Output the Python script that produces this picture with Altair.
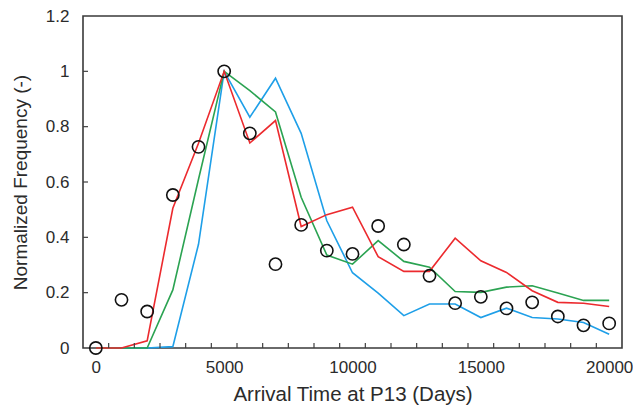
import altair as alt
import pandas as pd

# ---- data ----
days = [0, 1000, 2000, 3000, 4000, 5000, 6000, 7000, 8000, 9000, 10000,
        11000, 12000, 13000, 14000, 15000, 16000, 17000, 18000, 19000, 20000]
observed = [0.0, 0.174, 0.132, 0.553, 0.727, 1.0, 0.776, 0.303, 0.445, 0.352, 0.340,
            0.441, 0.374, 0.261, 0.162, 0.185, 0.143, 0.165, 0.114, 0.082, 0.089]
red_series = [0.0, 0.0, 0.026, 0.505, 0.74, 1.0, 0.741, 0.822, 0.439, 0.482, 0.509,
              0.330, 0.277, 0.277, 0.397, 0.315, 0.273, 0.207, 0.165, 0.162, 0.150]
green_series = [0.0, 0.0, 0.0, 0.21, 0.61, 1.0, 0.93, 0.853, 0.545, 0.336, 0.303,
                0.388, 0.313, 0.292, 0.204, 0.201, 0.220, 0.225, 0.199, 0.172, 0.172]
blue_series = [0.0, 0.0, 0.0, 0.005, 0.375, 1.0, 0.834, 0.975, 0.776, 0.46, 0.272,
               0.198, 0.117, 0.159, 0.159, 0.110, 0.144, 0.110, 0.105, 0.092, 0.050]

series_names = ["blue", "green", "red"]
series_colors = ["#1E9FE8", "#2BA352", "#EC2A2E"]

x_labels = [0, 5000, 10000, 15000, 20000]
x_minor_ticks = [500 + 1000 * i for i in range(20)]
y_labels = [0, 0.2, 0.4, 0.6, 0.8, 1.0, 1.2]
y_minor_ticks = [0.2, 0.4, 0.6, 0.8, 1.0]

# ---- tables ----
rows = []
for name, vals in zip(series_names, [blue_series, green_series, red_series]):
    for d, v in zip(days, vals):
        rows.append({"days": d, "value": v, "series": name})
lines_df = pd.DataFrame(rows)
obs_df = pd.DataFrame({"days": days, "value": observed})
xt_df = pd.DataFrame({"days": x_minor_ticks})
yt_df = pd.DataFrame({"value": y_minor_ticks})

FONT = "Liberation Sans"
TXT = "#2b2b2b"

x_scale = alt.Scale(domain=[-500, 20500], nice=False, zero=False)
y_scale = alt.Scale(domain=[0, 1.2], nice=False)

x_axis = alt.Axis(values=x_labels, format="d", ticks=False, domain=False, grid=False,
                  labelFontSize=17, labelPadding=11, labelColor=TXT, labelFont=FONT,
                  title="Arrival Time at P13 (Days)", titleFontSize=20.5, titleFont=FONT,
                  titleFontWeight="normal", titleColor=TXT, titlePadding=9)
y_axis = alt.Axis(values=y_labels, format="~g", ticks=False, domain=False, grid=False,
                  labelFontSize=17, labelPadding=14, labelColor=TXT, labelFont=FONT,
                  title="Normalized Frequency (-)", titleFontSize=19, titleFont=FONT,
                  titleFontWeight="normal", titleColor=TXT, titlePadding=15)

X = lambda: alt.X("days:Q", scale=x_scale, axis=x_axis)
Y = lambda: alt.Y("value:Q", scale=y_scale, axis=y_axis)

line_layers = [
    alt.Chart(lines_df[lines_df.series == n]).mark_line(strokeWidth=1.6, color=c).encode(x=X(), y=Y())
    for n, c in zip(series_names, series_colors)
]

points = alt.Chart(obs_df).mark_point(shape="circle", filled=False, size=150, opacity=1,
                                      color="#111111", strokeWidth=1.6).encode(x=X(), y=Y())

xticks = alt.Chart(xt_df).mark_rule(color="#404040", strokeWidth=1.2).encode(
    x=X(), y=alt.value(332), y2=alt.value(327))
yticks = alt.Chart(yt_df).mark_rule(color="#404040", strokeWidth=1.2).encode(
    y=Y(), x=alt.value(0), x2=alt.value(5))

chart = alt.layer(*line_layers, points, xticks, yticks).properties(
    width=539, height=332,
    autosize=alt.AutoSizeParams(type="none"),
    padding={"left": 83, "top": 16, "right": 11, "bottom": 64},
    background="white",
).configure_view(stroke="#3a3a3a", strokeWidth=1.6)

chart.save("out.html", embed_options={"renderer": "svg", "actions": False})
